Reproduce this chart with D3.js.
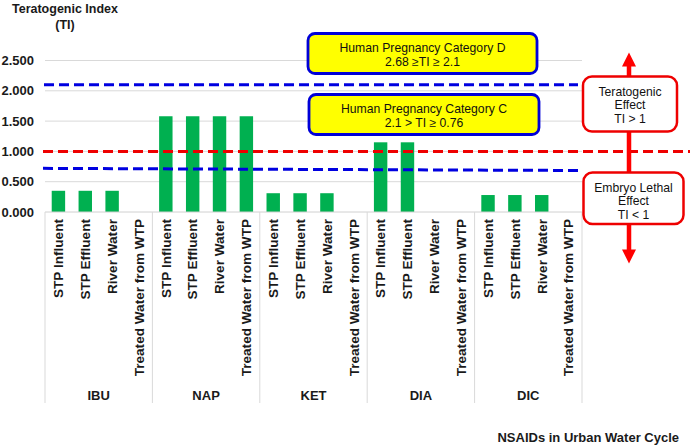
<!DOCTYPE html>
<html>
<head>
<meta charset="utf-8">
<script src="https://cdn.jsdelivr.net/npm/d3@7"></script>
<style>
  html, body { margin: 0; padding: 0; background: #fff; }
  svg { display: block; font-family: "Liberation Sans", Arial, sans-serif; }
</style>
</head>
<body>
<svg id="chart" width="690" height="447"></svg>
<script>
// ---- data ----
const groups = ["IBU", "NAP", "KET", "DIA", "DIC"];
const sources = ["STP Influent", "STP Effluent", "River Water", "Treated Water from WTP"];
const valuesIBU = [0.35, 0.35, 0.35, 0];
const valuesNAP = [1.58, 1.58, 1.58, 1.58];
const valuesKET = [0.31, 0.31, 0.31, 0];
const valuesDIA = [1.15, 1.15, 0, 0];
const valuesDIC = [0.28, 0.28, 0.28, 0];
const yTicks = [0, 0.5, 1.0, 1.5, 2.0, 2.5];
const categoryD = { threshold: 2.1, title: "Human Pregnancy Category D", range: "2.68 \u2265TI \u2265 2.1" };
const categoryC = { threshold: [0.72, 0.685], title: "Human Pregnancy Category C", range: "2.1 > TI \u2265 0.76" };
const effectLine = 1.0;
const teratoLabel = ["Teratogenic", "Effect", "TI > 1"];
const embryoLabel = ["Embryo Lethal", "Effect", "TI < 1"];
const yTitle = ["Teratogenic Index", "(TI)"];
const xTitle = "NSAIDs in Urban Water Cycle";

(function () {
const seriesByGroup = { IBU: valuesIBU, NAP: valuesNAP, KET: valuesKET, DIA: valuesDIA, DIC: valuesDIC };
const rows = [];
groups.forEach(g => sources.forEach((s, i) => rows.push({ group: g, source: s, value: seriesByGroup[g][i] })));

// ---- layout ----
const svg = d3.select("#chart");
const pLeft = 45, pRight = 582, pTop = 60.5, pBottom = 212;
const FONT = 13;

const x0 = d3.scaleBand().domain(groups).range([pLeft, pRight]).padding(0);
const x1 = d3.scaleBand().domain(sources).range([0, x0.bandwidth()]).paddingInner(0.5).paddingOuter(0.25);
const y = d3.scaleLinear().domain([0, 2.5]).range([pBottom, pTop]);

// gridlines
svg.append("g").selectAll("line").data(yTicks.filter(d => d > 0)).join("line")
  .attr("x1", pLeft).attr("x2", pRight)
  .attr("y1", d => y(d)).attr("y2", d => y(d))
  .attr("stroke", "#d9d9d9").attr("stroke-width", 1);

// y axis labels
const yAxis = d3.axisLeft(y).tickValues(yTicks).tickFormat(d3.format(".3f")).tickSize(0).tickPadding(0);
const yg = svg.append("g").attr("transform", `translate(${pLeft - 11},0)`).call(yAxis);
yg.select(".domain").remove();
yg.selectAll("text").attr("font-size", FONT).attr("font-weight", "bold").attr("fill", "#1a1a1a")
  .attr("font-family", "'Liberation Sans', Arial, sans-serif");

// bars
svg.append("g").selectAll("rect").data(rows.filter(d => d.value > 0)).join("rect")
  .attr("x", d => x0(d.group) + x1(d.source))
  .attr("width", x1.bandwidth())
  .attr("y", d => y(d.value))
  .attr("height", d => y(0) - y(d.value))
  .attr("fill", "#00b050");

// zero axis line
svg.append("line").attr("x1", pLeft).attr("x2", pRight).attr("y1", y(0)).attr("y2", y(0))
  .attr("stroke", "#d0d0d0").attr("stroke-width", 1);

// group separators
const seps = groups.map(g => x0(g)).concat([pRight]);
svg.append("g").selectAll("line").data(seps).join("line")
  .attr("x1", d => d).attr("x2", d => d)
  .attr("y1", y(0)).attr("y2", 403)
  .attr("stroke", "#d9d9d9").attr("stroke-width", 1);

// category labels (rotated)
svg.append("g").selectAll("text").data(rows).join("text")
  .attr("transform", d => `translate(${x0(d.group) + x1(d.source) + x1.bandwidth() / 2 + 4.8},${y(0) + 7}) rotate(-90)`)
  .attr("text-anchor", "end")
  .attr("font-size", 13.6).attr("font-weight", "bold").attr("fill", "#1a1a1a")
  .text(d => d.source);

// group labels
svg.append("g").selectAll("text").data(groups).join("text")
  .attr("x", d => x0(d) + x0.bandwidth() / 2).attr("y", 400)
  .attr("text-anchor", "middle").attr("font-size", FONT).attr("font-weight", "bold").attr("fill", "#1a1a1a")
  .text(d => d);

// axis titles
svg.append("text").attr("x", 65).attr("y", 13).attr("text-anchor", "middle")
  .attr("font-size", 12.5).attr("font-weight", "bold").attr("fill", "#1a1a1a").text(yTitle[0]);
svg.append("text").attr("x", 65).attr("y", 29).attr("text-anchor", "middle")
  .attr("font-size", 12.5).attr("font-weight", "bold").attr("fill", "#1a1a1a").text(yTitle[1]);
svg.append("text").attr("x", 679).attr("y", 442).attr("text-anchor", "end")
  .attr("font-size", FONT).attr("font-weight", "bold").attr("fill", "#1a1a1a").text(xTitle);

// dashed threshold lines
const dash = "10,5";
svg.append("line").attr("x1", 44).attr("x2", 578)
  .attr("y1", y(categoryD.threshold)).attr("y2", y(categoryD.threshold))
  .attr("stroke", "#0000e0").attr("stroke-width", 3).attr("stroke-dasharray", dash);
svg.append("line").attr("x1", 43).attr("x2", 578)
  .attr("y1", y(categoryC.threshold[0])).attr("y2", y(categoryC.threshold[1]))
  .attr("stroke", "#0000e0").attr("stroke-width", 3).attr("stroke-dasharray", dash);
svg.append("line").attr("x1", 43).attr("x2", 690)
  .attr("y1", y(effectLine)).attr("y2", y(effectLine))
  .attr("stroke", "#ee0000").attr("stroke-width", 3).attr("stroke-dasharray", dash);

// yellow category boxes
function yellowBox(bx, by, bw, bh, lines) {
  svg.append("rect").attr("x", bx).attr("y", by).attr("width", bw).attr("height", bh)
    .attr("rx", 7).attr("ry", 7).attr("fill", "#ffff00").attr("stroke", "#0000d8").attr("stroke-width", 2.8);
  lines.forEach((t, i) => {
    svg.append("text").attr("x", bx + bw / 2).attr("y", by + 18 + i * 14.2).attr("text-anchor", "middle")
      .attr("font-size", 12.2).attr("fill", "#111").text(t);
  });
}
yellowBox(308, 33.5, 229, 40, [categoryD.title, categoryD.range]);
yellowBox(309, 94.5, 230, 40, [categoryC.title, categoryC.range]);

// red double arrow
const ax = 629;
svg.append("line").attr("x1", ax).attr("x2", ax).attr("y1", 62).attr("y2", 254)
  .attr("stroke", "#ff0000").attr("stroke-width", 4.5);
svg.append("path").attr("d", `M${ax},52.5 L${ax - 7},66.5 L${ax + 7},66.5 Z`).attr("fill", "#ff0000");
svg.append("path").attr("d", `M${ax},263.5 L${ax - 7},249.5 L${ax + 7},249.5 Z`).attr("fill", "#ff0000");

// red effect boxes
function redBox(bx, by, bw, bh, lines) {
  svg.append("rect").attr("x", bx).attr("y", by).attr("width", bw).attr("height", bh)
    .attr("rx", 9).attr("ry", 9).attr("fill", "#fff").attr("stroke", "#ee0000").attr("stroke-width", 2.5);
  lines.forEach((t, i) => {
    svg.append("text").attr("x", bx + bw / 2).attr("y", by + 19 + i * 13.7).attr("text-anchor", "middle")
      .attr("font-size", 12.2).attr("fill", "#111").text(t);
  });
}
redBox(583, 76.5, 94, 55, teratoLabel);
redBox(583.5, 172.5, 100, 51.5, embryoLabel);
})();
</script>
</body>
</html>
